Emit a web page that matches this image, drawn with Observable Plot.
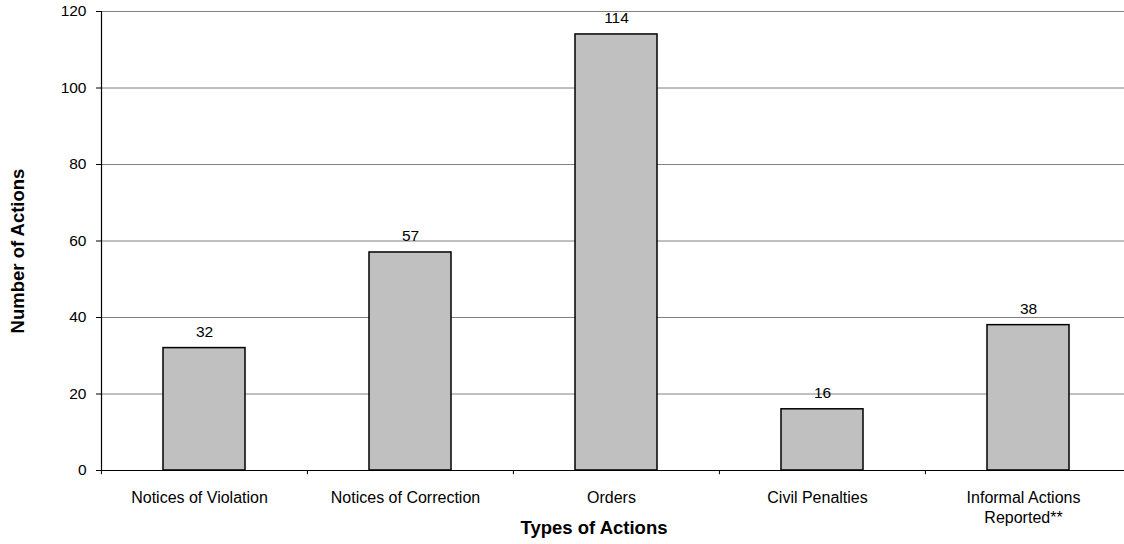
<!DOCTYPE html>
<html>
<head>
<meta charset="utf-8">
<script src="https://cdn.jsdelivr.net/npm/d3@7"></script>
<script src="https://cdn.jsdelivr.net/npm/@observablehq/plot@0.6"></script>
<style>
  html, body { margin: 0; padding: 0; background: #fff; }
  #chart svg { display: block; }
</style>
</head>
<body>
<div id="chart"></div>
<script>
const categories = ["Notices of Violation", "Notices of Correction", "Orders", "Civil Penalties", "Informal Actions Reported**"];
const tickLabels = ["Notices of Violation", "Notices of Correction", "Orders", "Civil Penalties", "Informal Actions\nReported**"];
const values = [32, 57, 114, 16, 38];
const yTicks = [0, 20, 40, 60, 80, 100, 120];
const xTitle = "Types of Actions";
const yTitle = "Number of Actions";

const data = categories.map((c, i) => ({cat: c, value: values[i]}));

const W = 1124, H = 544;
const mL = 101, mR = -8, mT = 11, mB = 74;
const step = (W - mL - mR) / categories.length;

const chart = Plot.plot({
  width: W,
  height: H,
  marginLeft: mL,
  marginRight: mR,
  marginTop: mT,
  marginBottom: mB,
  style: {fontFamily: "'Liberation Sans', Arial, sans-serif", fontSize: "15.5px", color: "black", background: "white"},
  x: {domain: categories, paddingInner: 0.6, paddingOuter: 0.3},
  y: {domain: [0, 120]},
  marks: [
    Plot.gridY(yTicks, {stroke: "#808080", strokeOpacity: 1, strokeWidth: 1}),
    Plot.axisY(yTicks, {tickSize: 5, tickPadding: 10, fontSize: 15.5, label: null, stroke: "black"}),
    Plot.axisX({tickSize: 0, tickPadding: 18, fontSize: 16, lineHeight: 1.25, label: null, dx: -5,
      tickFormat: d => tickLabels[categories.indexOf(d)]}),
    Plot.barY(data, {x: "cat", y: "value", fill: "#c0c0c0", stroke: "black", strokeWidth: 1.5}),
    Plot.ruleX(categories, {x: d => d, y1: 0, y2: -1.1, dx: -step / 2, stroke: "black"}),
    Plot.ruleY([0], {stroke: "black", strokeWidth: 1.2}),
    Plot.frame({anchor: "left", stroke: "black", strokeWidth: 1.2}),
    Plot.text(data, {x: "cat", y: "value", text: d => String(d.value), dy: -16, fontSize: 15.5, fill: "black"}),
    Plot.text([xTitle], {frameAnchor: "bottom", textAnchor: "middle", dx: -23, dy: 63, fontSize: 18.5, fontWeight: "bold", fill: "black"}),
    Plot.text([yTitle], {frameAnchor: "left", textAnchor: "middle", dx: -83, dy: 10, rotate: -90, fontSize: 18.5, fontWeight: "bold", fill: "black"})
  ]
});
document.getElementById("chart").appendChild(chart);
</script>
</body>
</html>
